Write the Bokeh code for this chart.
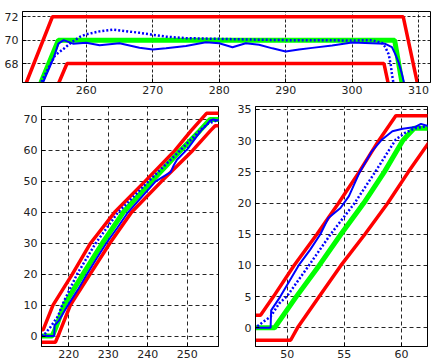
from bokeh.plotting import figure
from bokeh.layouts import column, row
from bokeh.models import FixedTicker, Range1d
from bokeh.embed import file_html
from bokeh.resources import INLINE

# ---------------- Profile A (top panel + bottom-left panel) ----------------
a_red_hi_t = [212, 213.5, 216.0, 220.9, 225.5, 231.6, 239.3, 246.9, 251.0, 254.9, 307.7, 309.8, 310.8]
a_red_hi_v = [2, 2, 10, 20, 30, 40, 50, 60, 66.4, 72, 72, 66.4, 63.5]

a_red_lo_t = [212, 216.6, 217.6, 220.4, 225.4, 230.4, 235.9, 243.5, 251.4, 255.9, 257.1, 304.8, 305.4, 306.3]
a_red_lo_v = [-2, -2, 1, 10, 20, 30, 40, 50, 60, 66.4, 68, 68, 66.4, 64]

a_green_t = [212, 215.8, 216.8, 218.8, 223.6, 228.5, 233.8, 241.0, 248.3, 253.2, 255.8, 306.4, 307.5, 308.5]
a_green_v = [0, 0, 3, 10, 20, 30, 40, 50, 60, 66.4, 70, 70, 66.4, 63.4]

a_blue_t = [212, 216.3, 216.4, 217.5, 219.8, 222.3, 224.6, 227.0, 229.5, 232.3, 235.0, 238.5, 242.0,
            245.8, 246.6, 247.4, 250.1, 253.5, 255.1, 255.8, 256.6, 258, 260, 262, 265, 268, 270,
            272, 275, 278, 280, 282, 284, 286, 288, 290, 292, 294, 297, 300, 303, 305, 306,
            306.5, 307, 307.5, 307.8, 308.5]
a_blue_v = [0, 0, 3.5, 5, 10, 15, 20, 25, 30, 35, 40, 45, 50,
            53, 55.2, 57, 60.5, 66.4, 68.5, 69.7, 70.0, 69.7, 69.77, 69.57, 69.74, 69.35, 69.2,
            69.3, 69.5, 69.83, 69.74, 69.4, 69.74, 69.6, 69.3, 69.03, 69.2, 69.34, 69.54, 69.8, 69.74, 69.69, 69.4,
            68.8, 68.1, 67.1, 66.4, 64]

a_dot_t = [212, 213.7, 215.4, 217.3, 218.3, 222.1, 226.8, 232.5, 240.2, 248.2, 253.2, 255.3, 256.6,
           257.8, 259.1, 260, 262, 264, 266, 268, 270, 272, 275, 280, 285, 290, 295, 300, 303,
           304.5, 305, 305.5, 305.8, 306, 306.2, 306.8]
a_dot_v = [0, 0.3, 3.0, 6.5, 10, 20, 30, 40, 50, 60, 66.4, 68.7, 69.26,
           69.83, 70.3, 70.5, 70.75, 70.9, 70.77, 70.63, 70.46, 70.3, 70.17, 70.11, 70.05, 70.0, 70.0, 69.97, 70.0,
           69.77, 69.4, 68.8, 67.97, 67.1, 66.4, 64]

# ---------------- Profile B (bottom-right panel) ----------------
b_red_hi_t = [46, 47.67, 48.8, 50.6, 52.6, 54.5, 56.3, 58.0, 59.5, 64]
b_red_hi_v = [2, 2, 5, 10, 15, 20, 25, 30, 34, 34]

b_red_lo_t = [46, 50.3, 50.9, 52.8, 54.7, 56.8, 58.8, 60.6, 62.5]
b_red_lo_v = [-2, -2, 0, 5, 10, 15, 20, 25, 30]

b_green_t = [46, 48.9, 50.8, 52.8, 54.7, 56.7, 58.5, 60.1, 61.1, 64]
b_green_v = [0, 0, 5, 10, 15, 20, 25, 30, 32, 32]

b_blue_t = [46, 48.55, 48.6, 49.4, 50.2, 51.0, 52.0, 52.9, 53.6, 54.66, 55.4, 56.3, 57.4, 58.3,
            59.2, 60.1, 61.2, 61.7, 62.4]
b_blue_v = [0, 0, 2.8, 5, 7.5, 10, 12.5, 15, 17.6, 19.2, 21.1, 24.8, 28.3, 30.2,
            31.5, 31.9, 32.2, 32.7, 32.3]

b_dot_t = [46, 47.2, 47.5, 48.1, 48.55, 49.3, 50.0, 51.9, 53.8, 55.9, 57.7, 59.5, 60.35, 61.2, 62.4]
b_dot_v = [0, 0.1, 0.4, 1.2, 1.8, 3.9, 5.1, 10, 15, 20, 25, 30.2, 31.3, 32.0, 32.4]

# ---------------- tick labels ----------------
top_xticks = [260, 270, 280, 290, 300, 310]
top_yticks = [68, 70, 72]
bl_xticks = [220, 230, 240, 250]
bl_yticks = [0, 10, 20, 30, 40, 50, 60, 70]
br_xticks = [50, 55, 60]
br_yticks = [0, 5, 10, 15, 20, 25, 30, 35]

RED = "#ff0000"
GREEN = "#00ff00"
BLUE = "#0000ff"


def make_fig(w, h, xr, yr, xt, yt, bl, br, bt, bb, dash):
    p = figure(width=w, height=h, x_range=Range1d(*xr), y_range=Range1d(*yr),
               output_backend="svg", toolbar_location=None,
               min_border_left=bl, min_border_right=br, min_border_top=bt, min_border_bottom=bb)
    p.background_fill_color = "white"
    p.border_fill_color = "white"
    p.outline_line_color = "black"
    p.outline_line_width = 1
    p.xaxis.ticker = FixedTicker(ticks=xt)
    p.yaxis.ticker = FixedTicker(ticks=yt)
    for ax in (p.xaxis, p.yaxis):
        ax.axis_line_color = "black"
        ax.major_tick_in = 4
        ax.major_tick_out = 0
        ax.minor_tick_line_color = None
        ax.major_label_text_font = "DejaVu Sans"
        ax.major_label_text_font_size = "11px"
        ax.major_label_text_color = "#222222"
    p.xaxis.major_label_standoff = 3
    p.yaxis.major_label_standoff = 4
    p.grid.grid_line_color = "black"
    p.grid.grid_line_dash = dash
    p.grid.grid_line_width = 1
    p.grid.grid_line_alpha = 0.85
    return p


def draw(p, rh_t, rh_v, rl_t, rl_v, g_t, g_v, d_t, d_v, b_t, b_v):
    p.line(rh_t, rh_v, line_color=RED, line_width=3.5)
    p.line(rl_t, rl_v, line_color=RED, line_width=3.5)
    p.line(g_t, g_v, line_color=GREEN, line_width=5)
    p.line(d_t, d_v, line_color=BLUE, line_width=2.5, line_dash="2 2")
    p.line(b_t, b_v, line_color=BLUE, line_width=2)


p_top = make_fig(431, 98, (250.4, 311.8), (66.38, 72.45), top_xticks, top_yticks, 22, 1, 11, 16, "3 2")
draw(p_top, a_red_hi_t, a_red_hi_v, a_red_lo_t, a_red_lo_v, a_green_t, a_green_v,
     a_dot_t, a_dot_v, a_blue_t, a_blue_v)

p_bl = make_fig(228, 266, (213.08, 257.93), (-3.38, 74.2), bl_xticks, bl_yticks, 41, 10, 8, 17, "4 3")
draw(p_bl, a_red_hi_t, a_red_hi_v, a_red_lo_t, a_red_lo_v, a_green_t, a_green_v,
     a_dot_t, a_dot_v, a_blue_t, a_blue_v)

p_br = make_fig(203, 266, (47.23, 62.27), (-3.0, 35.48), br_xticks, br_yticks, 27, 4, 8, 18, "4 3")
draw(p_br, b_red_hi_t, b_red_hi_v, b_red_lo_t, b_red_lo_v, b_green_t, b_green_v,
     b_dot_t, b_dot_v, b_blue_t, b_blue_v)

layout = column(p_top, row(p_bl, p_br))

open("out.html", "w").write(file_html(layout, INLINE))
